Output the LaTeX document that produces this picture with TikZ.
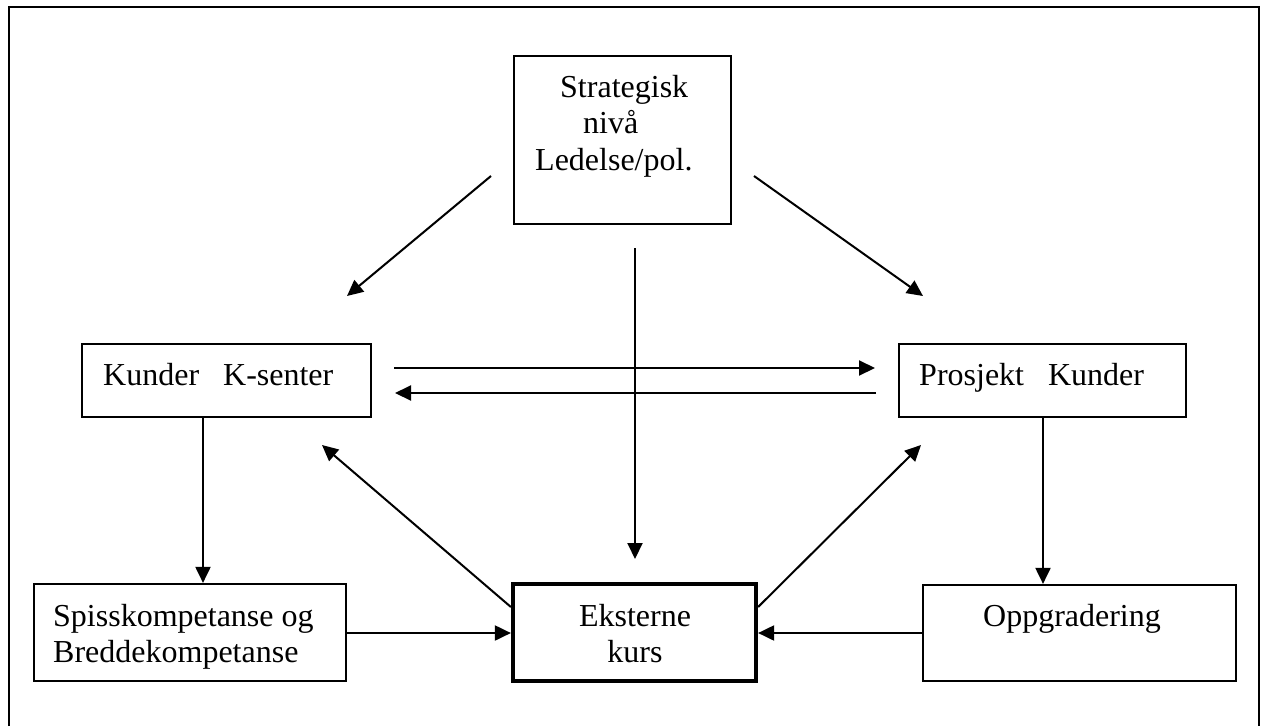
\documentclass[tikz,border=0pt]{standalone}
\usepackage{fontspec}
\setmainfont{Liberation Serif}
\usetikzlibrary{arrows.meta}
\begin{document}
\begin{tikzpicture}[x=1pt,y=-1pt,
  box/.style={draw,line width=2.2pt,inner sep=0pt,rectangle},
  thickbox/.style={draw,line width=4.2pt,inner sep=0pt,rectangle},
  txt/.style={inner sep=0pt,font=\fontsize{32}{37}\selectfont},
  conn/.style={line width=2pt,-{Triangle[length=16pt,width=15pt]}}]
\useasboundingbox (0,0) rectangle (1261,726);
% frame
\draw[line width=2.8pt] (9,726) -- (9,7) -- (1259,7) -- (1259,726);
% boxes
\node[box,minimum width=217pt,minimum height=168pt] (strat) at (622.5,140) {};
\node[box,minimum width=289pt,minimum height=73pt] (kunder) at (226.5,380.5) {};
\node[box,minimum width=287pt,minimum height=73pt] (prosjekt) at (1042.5,380.5) {};
\node[box,minimum width=312pt,minimum height=97pt] (spiss) at (190,632.5) {};
\node[thickbox,minimum width=243pt,minimum height=97pt] (eks) at (634.5,632.5) {};
\node[box,minimum width=313pt,minimum height=96pt] (opp) at (1079.5,633) {};
% texts
\node[txt,anchor=base west] (t1) at (560,97) {Strategisk};
\node[txt,anchor=base west] (t2) at (583,133) {nivå};
\node[txt,anchor=base west] (t3) at (535,170) {Ledelse/pol.};
\node[txt,anchor=base west] (t4) at (103,385) {Kunder~~~K-senter};
\node[txt,anchor=base west] (t5) at (919,385) {Prosjekt~~~Kunder};
\node[txt,anchor=base west] (t6) at (53,626) {Spisskompetanse og};
\node[txt,anchor=base west] (t7) at (53,662) {Breddekompetanse};
\node[txt,anchor=base] (t8) at (635,626) {Eksterne};
\node[txt,anchor=base] (t9) at (635,662) {kurs};
\node[txt,anchor=base] (t10) at (1072,626) {Oppgradering};
% free ends
\coordinate (sl0) at (491,176);
\coordinate (sl1) at (347,296);
\coordinate (sr0) at (754,176);
\coordinate (sr1) at (923,296);
\coordinate (sm0) at (635,248);
\coordinate (sm1) at (635,559);
\coordinate (h1a) at (394,368);
\coordinate (h1b) at (875,368);
\coordinate (h2a) at (876,393);
\coordinate (h2b) at (395,393);
\coordinate (dl) at (322,445);
\coordinate (dr) at (921,445);
% connectors
\draw[conn] (sl0) -- (sl1);
\draw[conn] (sr0) -- (sr1);
\draw[conn] (sm0) -- (sm1);
\draw[conn] (h1a) -- (h1b);
\draw[conn] (h2a) -- (h2b);
\draw[conn] (kunder.south -| 203,0) -- (spiss.north -| 203,0);
\draw[conn] (prosjekt.south -| 1043,0) -- (opp.north -| 1043,0);
\draw[conn] (spiss.east |- 0,633) -- (eks.west |- 0,633);
\draw[conn] (opp.west |- 0,633) -- (eks.east |- 0,633);
\draw[conn] (eks.west |- 0,607) -- (dl);
\draw[conn] (eks.east |- 0,607) -- (dr);
\end{tikzpicture}
\end{document}
